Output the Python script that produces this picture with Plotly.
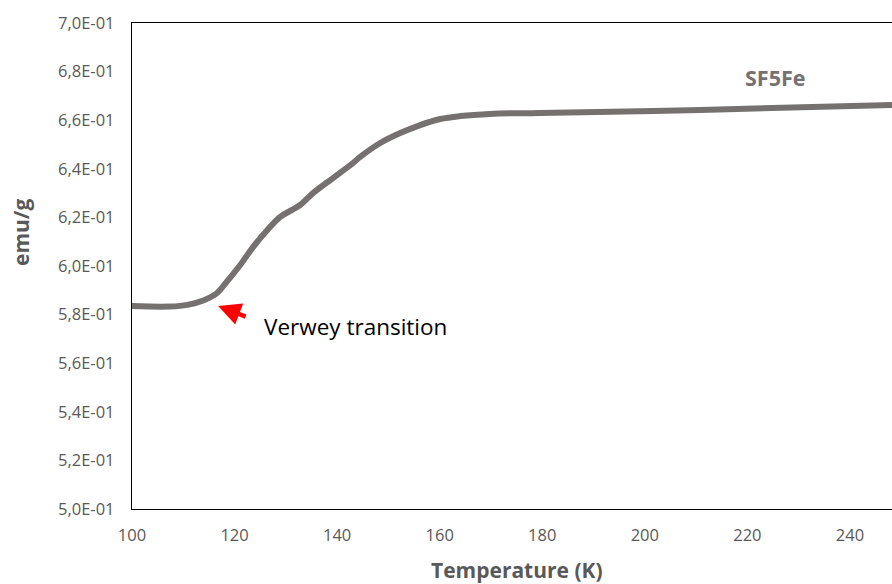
import plotly.graph_objects as go

temperature = [100, 107.5, 110.8, 113.9, 116.6, 118.2, 121.1, 123.6, 126.4, 128.9,
               131.3, 132.8, 135.3, 139.2, 143.1, 144.5, 148.4, 152.3, 156.2, 160.1,
               164.0, 169.8, 179.6, 210.8, 248.2]
emu_g = [0.5835, 0.5833, 0.5840, 0.5858, 0.5889, 0.5928, 0.6004, 0.6078, 0.6148, 0.6202,
         0.6232, 0.6251, 0.6300, 0.6362, 0.6424, 0.6449, 0.6506, 0.6547, 0.6580, 0.6605,
         0.6617, 0.6626, 0.6630, 0.6642, 0.6663]
x_ticks = [100, 120, 140, 160, 180, 200, 220, 240]
y_ticks = [0.50, 0.52, 0.54, 0.56, 0.58, 0.60, 0.62, 0.64, 0.66, 0.68, 0.70]
y_tick_labels = ["5,0E-01", "5,2E-01", "5,4E-01", "5,6E-01", "5,8E-01", "6,0E-01",
                 "6,2E-01", "6,4E-01", "6,6E-01", "6,8E-01", "7,0E-01"]

FONT = "Open Sans"
GRAY = "#595959"
LINE = "#767171"

fig = go.Figure()
fig.add_trace(go.Scatter(x=temperature, y=emu_g, mode="lines",
                         line=dict(color=LINE, width=6, shape="spline", smoothing=1.0),
                         showlegend=False, hoverinfo="skip"))

fig.update_layout(
    width=892, height=584,
    margin=dict(l=132, r=0, t=23, b=75),
    paper_bgcolor="white", plot_bgcolor="white",
    font=dict(family=FONT, color=GRAY),
    xaxis=dict(range=[100, 248.2], tickvals=x_ticks, showgrid=False, zeroline=False,
               showline=True, linecolor="black", linewidth=1.3, mirror=True,
               ticks="", tickfont=dict(size=16.5, color=GRAY), ticklabelstandoff=11),
    yaxis=dict(range=[0.50, 0.70], tickvals=y_ticks, ticktext=y_tick_labels,
               showgrid=False, zeroline=False, showline=True, linecolor="black",
               linewidth=1.3, ticks="", tickfont=dict(size=16.5, color=GRAY),
               ticklabelstandoff=13),
)

# axis titles
fig.add_annotation(text="<b>Temperature (K)</b>", xref="paper", yref="paper",
                   x=0.507, y=0, yshift=-61, showarrow=False,
                   font=dict(size=21, color=GRAY, family=FONT), yanchor="middle")
fig.add_annotation(text="<b>emu/g</b>", xref="paper", yref="paper",
                   x=0, xshift=-111, y=(509 - 232) / 486, showarrow=False, textangle=-90,
                   font=dict(size=21, color=GRAY, family=FONT), xanchor="center", yanchor="middle")

# series label
fig.add_annotation(text="<b>SF5Fe</b>", x=225.4, y=0.6774, showarrow=False,
                   font=dict(size=21.5, color=LINE, family=FONT))

# Verwey arrow + text
fig.add_annotation(x=116.8, y=0.5835, ax=29, ay=11, showarrow=True, text="",
                   arrowhead=2, arrowsize=1.0, arrowwidth=4.5, arrowcolor="#ff0000")
fig.add_annotation(text="Verwey transition", x=143.6, y=0.5749, showarrow=False,
                   font=dict(size=22.5, color="black", family=FONT))

fig.write_html("out.html")
